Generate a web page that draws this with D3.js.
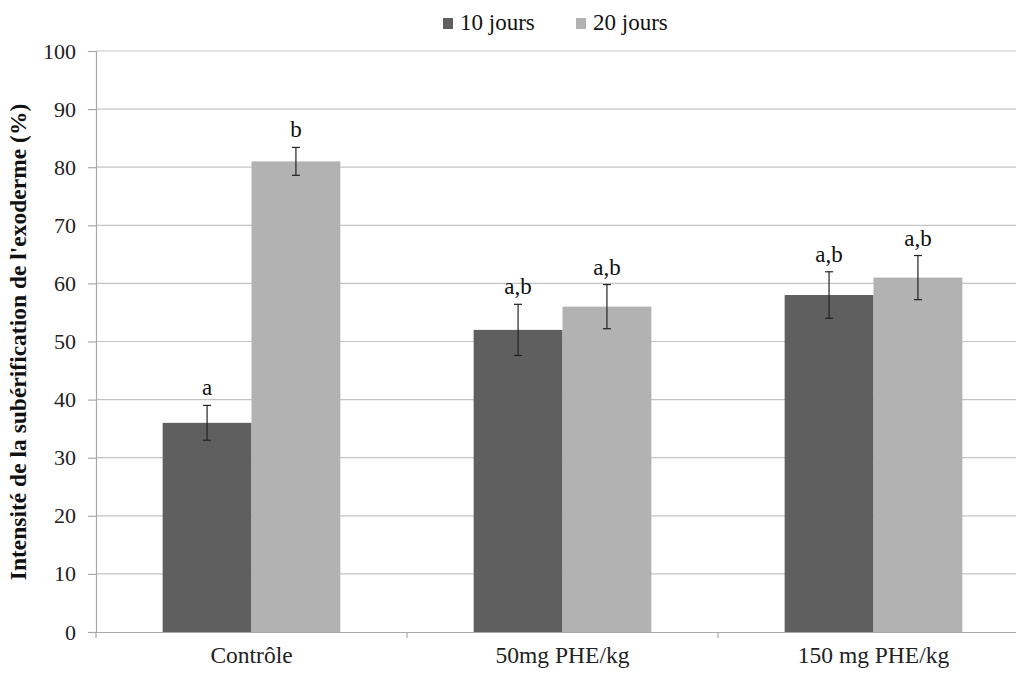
<!DOCTYPE html>
<html><head><meta charset="utf-8">
<script src="https://cdn.jsdelivr.net/npm/d3@7"></script>
<style>body{margin:0;background:#fff}svg{display:block}</style>
</head><body><svg id="c" width="1016" height="673" font-family="Liberation Serif, DejaVu Serif, serif"></svg>
<script>
const categories = ["Contrôle", "50mg PHE/kg", "150 mg PHE/kg"];
const seriesNames = ["10 jours", "20 jours"];
const values10 = [36, 52, 58];
const values20 = [81, 56, 61];
const err10 = [3, 4.4, 4];
const err20 = [2.4, 3.8, 3.8];
const labels10 = ["a", "a,b", "a,b"];
const labels20 = ["b", "a,b", "a,b"];
const yTicks = [0,10,20,30,40,50,60,70,80,90,100];
const colors = ["#5f5f5f", "#b2b2b2"];

const FONT = "Liberation Serif, DejaVu Serif, serif";
const svg = d3.select("#c");
const mLeft = 96, mTop = 51, mBottom = 632, mRight = 1029;
const x = d3.scaleBand().domain(categories).range([mLeft, mRight]).paddingInner(0).paddingOuter(0);
const xs = d3.scaleBand().domain(seriesNames).range([0, x.bandwidth()]).paddingInner(0).paddingOuter(0.75);
const y = d3.scaleLinear().domain([0, 100]).range([mBottom, mTop]);

// gridlines
svg.append("g").selectAll("line").data(yTicks.filter(d => d > 0)).join("line")
  .attr("x1", mLeft).attr("x2", 1016).attr("y1", d => y(d)).attr("y2", d => y(d))
  .attr("stroke", "#c4c4c4").attr("stroke-width", 1.2);

// y axis
const yAxis = d3.axisLeft(y).tickValues(yTicks).tickSize(8).tickPadding(12);
const gy = svg.append("g").attr("transform", `translate(${mLeft},0)`).call(yAxis)
  .attr("font-family", FONT).attr("font-size", 22);
gy.select(".domain").attr("stroke", "#a8a8a8").attr("stroke-width", 1.2);
gy.selectAll(".tick line").attr("stroke", "#a8a8a8").attr("stroke-width", 1.2);
gy.selectAll(".tick text").attr("fill", "#222");

// x axis
const xAxis = d3.axisBottom(x).tickSize(0).tickPadding(14);
const gx = svg.append("g").attr("transform", `translate(0,${mBottom})`).call(xAxis)
  .attr("font-family", FONT).attr("font-size", 23.5);
gx.select(".domain").attr("stroke", "#a8a8a8").attr("stroke-width", 1.2);
gx.selectAll(".tick text").attr("fill", "#222");
// category boundary ticks
svg.append("g").selectAll("line").data(categories).join("line")
  .attr("x1", d => x(d)).attr("x2", d => x(d)).attr("y1", mBottom).attr("y2", mBottom + 6)
  .attr("stroke", "#a8a8a8").attr("stroke-width", 1.2);

const data = categories.map((c, i) => [
  {c, s: seriesNames[0], v: values10[i], e: err10[i], l: labels10[i], col: colors[0]},
  {c, s: seriesNames[1], v: values20[i], e: err20[i], l: labels20[i], col: colors[1]}
]).flat();

const g = svg.append("g");
g.selectAll("rect").data(data).join("rect")
  .attr("x", d => x(d.c) + xs(d.s)).attr("width", xs.bandwidth())
  .attr("y", d => y(d.v)).attr("height", d => y(0) - y(d.v))
  .attr("fill", d => d.col);

// error bars
const eg = g.selectAll("g.err").data(data).join("g").attr("class", "err");
const cx = d => x(d.c) + xs(d.s) + xs.bandwidth() / 2;
eg.append("line").attr("x1", cx).attr("x2", cx).attr("y1", d => y(d.v + d.e)).attr("y2", d => y(d.v - d.e))
  .attr("stroke", "#222").attr("stroke-width", 1.2);
eg.append("line").attr("x1", d => cx(d) - 4).attr("x2", d => cx(d) + 4).attr("y1", d => y(d.v + d.e)).attr("y2", d => y(d.v + d.e))
  .attr("stroke", "#222").attr("stroke-width", 1.2);
eg.append("line").attr("x1", d => cx(d) - 4).attr("x2", d => cx(d) + 4).attr("y1", d => y(d.v - d.e)).attr("y2", d => y(d.v - d.e))
  .attr("stroke", "#222").attr("stroke-width", 1.2);
eg.append("text").attr("x", cx).attr("y", d => y(d.v + d.e) - 10)
  .attr("text-anchor", "middle").attr("font-size", 23).attr("fill", "#111").text(d => d.l);

// y title
svg.append("text").attr("transform", "translate(26,342) rotate(-90)")
  .attr("text-anchor", "middle").attr("font-size", 23.5).attr("font-weight", "bold").attr("fill", "#111")
  .text("Intensité de la subérification de l'exoderme (%)");

// legend
const legX = [443, 576];
const lg = svg.append("g").selectAll("g").data(seriesNames).join("g")
  .attr("transform", (d, i) => `translate(${legX[i]},18)`);
lg.append("rect").attr("width", 10).attr("height", 11).attr("fill", (d, i) => colors[i]);
lg.append("text").attr("x", 17).attr("y", 12).attr("font-size", 23).attr("fill", "#111").text(d => d);
</script></body></html>
